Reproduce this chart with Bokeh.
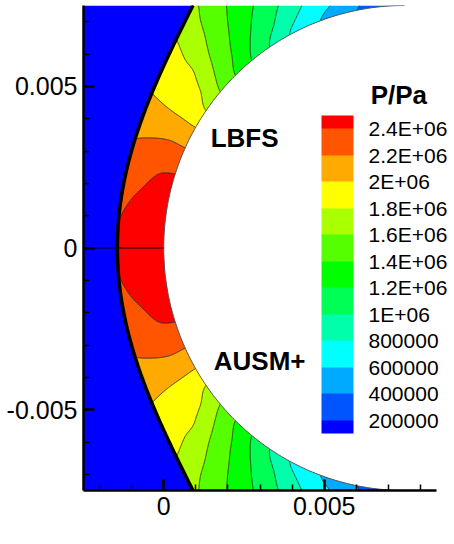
import numpy as np
from bokeh.plotting import figure
from bokeh.models import (ColorBar, LinearColorMapper, FixedTicker, SingleIntervalTicker,
                          CustomJSTickFormatter, Label, AllLabels)
from bokeh.embed import file_html
from bokeh.resources import INLINE

# ---------------- data ----------------
x_range_m = (-0.0025, 0.0085)
y_range_m = (-0.0075, 0.0075)
body_cx, body_r = 0.0075, 0.0075          # cylinder centre (x) and radius, m

# bow shock points (|y|, x), read from both halves, m
shock_y = [0.0, 0.00105, 0.00233, 0.0025, 0.00374, 0.00438, 0.00508, 0.00594, 0.00633, 0.00749, 0.00752]
shock_x = [-0.00144, -0.00139, -0.00113, -0.00118, -0.00082, -0.000506, -0.00020, 0.000115, 0.00032, 0.00089, 0.00094]

p_inf = 1.0e5                              # free-stream pressure, Pa

# pressure values of the iso-lines, Pa
iso_p = [2.4e6, 2.2e6, 2.0e6, 1.8e6, 1.6e6, 1.4e6, 1.2e6, 1.0e6, 8e5, 6e5, 4e5, 2e5, 1e5]
# distance from the wall (m) of each row of readings
row_d = [0.0, 0.0005, 0.0010, 0.0015, 0.0020, 0.0025]
# pressure on the stagnation line at those distances, Pa
p_axis = [2.58e6, 2.56e6, 2.52e6, 2.43e6, 2.42e6, 2.42e6]
# angle from the stagnation line (deg) where each iso-line crosses each row
phi_d0000 = [17.8, 24.4, 29.8, 34.5, 40.1, 45.4, 50.7, 56.0, 61.5, 69.6, 78.7, 87.0, 95.0]
phi_d0005 = [16.6, 24.5, 30.1, 37.4, 42.3, 47.8, 53.1, 59.4, 65.7, 74.3, 82.2, 90.0, 98.0]
phi_d0010 = [11.6, 23.6, 30.4, 39.6, 44.4, 50.1, 55.9, 62.6, 69.5, 78.0, 85.0, 92.0, 100.0]
phi_d0015 = [5.0, 22.1, 31.0, 40.5, 46.4, 52.2, 58.7, 66.0, 73.0, 81.0, 88.0, 95.0, 102.0]
phi_d0020 = [3.0, 20.0, 32.0, 42.0, 48.0, 54.2, 61.0, 69.0, 76.0, 83.0, 90.0, 97.0, 104.0]
phi_d0025 = [2.0, 18.0, 33.0, 43.0, 49.8, 56.0, 63.0, 71.0, 78.0, 85.0, 92.0, 99.0, 106.0]

contour_levels = [0, 200000, 400000, 600000, 800000, 1000000, 1200000, 1400000,
                  1600000, 1800000, 2000000, 2200000, 2400000, 3000000]
band_colors = ["#0000ff", "#0055ff", "#00aaff", "#00ffff", "#00ffaa", "#00ff55", "#00ff00",
               "#55ff00", "#aaff00", "#ffff00", "#ffaa00", "#ff5500", "#ff0000"]
cbar_ticks = [200000, 400000, 600000, 800000, 1000000, 1200000, 1400000,
              1600000, 1800000, 2000000, 2200000, 2400000]
cbar_labels = ["200000", "400000", "600000", "800000", "1E+06", "1.2E+06", "1.4E+06",
               "1.6E+06", "1.8E+06", "2E+06", "2.2E+06", "2.4E+06"]
cbar_low, cbar_high = 1.0e5, 2.5e6

# ---------------- smooth shock curve through the read points ----------------
shock_fit = np.polyfit(np.square(shock_y), shock_x, 2)
def shock_x_at(yabs):
    return np.polyval(shock_fit, np.square(yabs))

# monotone (PCHIP) interpolation so iso-lines come out smooth
def pchip(xq, xp, fp):
    xp = np.asarray(xp, float)
    fp = np.asarray(fp, float)
    h = np.diff(xp)
    delta = np.diff(fp) / h
    m = np.zeros_like(fp)
    m[0], m[-1] = delta[0], delta[-1]
    for k in range(1, len(xp) - 1):
        if delta[k - 1] * delta[k] > 0:
            w1 = 2 * h[k] + h[k - 1]
            w2 = h[k] + 2 * h[k - 1]
            m[k] = (w1 + w2) / (w1 / delta[k - 1] + w2 / delta[k])
    xc = np.clip(xq, xp[0], xp[-1])
    idx = np.clip(np.searchsorted(xp, xc) - 1, 0, len(xp) - 2)
    hh = h[idx]
    tt = (xc - xp[idx]) / hh
    return ((2 * tt**3 - 3 * tt**2 + 1) * fp[idx] + (tt**3 - 2 * tt**2 + tt) * hh * m[idx]
            + (-2 * tt**3 + 3 * tt**2) * fp[idx + 1] + (tt**3 - tt**2) * hh * m[idx + 1])

# ---------------- pressure field on a grid ----------------
nx, ny = 501, 751
xg = np.linspace(x_range_m[0], body_cx, nx)
yg = np.linspace(y_range_m[0], y_range_m[1], ny)
X, Y = np.meshgrid(xg, yg)
AY = np.abs(Y)
DX = body_cx - X
phi = np.degrees(np.arctan2(AY, DX))
dist = np.clip(np.hypot(DX, AY) - body_r, 0.0, row_d[-1])

rows = [phi_d0000, phi_d0005, phi_d0010, phi_d0015, phi_d0020, phi_d0025]
P_rows = np.stack([pchip(phi, [0.0] + rows[k], [p_axis[k]] + iso_p)
                   for k in range(len(row_d))])
rd = np.array(row_d)
nrow = len(row_d)
step = rd[1] - rd[0]
i0 = np.clip((dist / step).astype(int), 0, nrow - 2)
w = (dist - rd[i0]) / step

def take(k):
    return np.take_along_axis(P_rows, np.clip(k, 0, nrow - 1)[None], 0)[0]

p0, p1, p2, p3 = take(i0 - 1), take(i0), take(i0 + 1), take(i0 + 2)
m1 = (p2 - p0) / 2.0
m2 = (p3 - p1) / 2.0
h00 = 2 * w**3 - 3 * w**2 + 1
h10 = w**3 - 2 * w**2 + w
h01 = -2 * w**3 + 3 * w**2
h11 = w**3 - w**2
P = h00 * p1 + h10 * m1 + h01 * p2 + h11 * m2
P[X < shock_x_at(AY)] = p_inf

# ---------------- figure ----------------
FONT = "Liberation Sans"
p = figure(width=454, height=544, x_range=x_range_m, y_range=y_range_m,
           output_backend="svg", toolbar_location=None,
           min_border_left=83, min_border_right=18, min_border_top=5, min_border_bottom=54)
p.grid.visible = False
p.outline_line_color = None
p.background_fill_color = "white"

fmt = CustomJSTickFormatter(code="""
if (Math.abs(tick) < 1e-12) { return "0"; }
return tick.toFixed(3).replace(/\\.?0+$/, "");
""")
for ax in (p.xaxis[0], p.yaxis[0]):
    ax.ticker = SingleIntervalTicker(interval=0.005, num_minor_ticks=5)
    ax.formatter = fmt
    ax.axis_line_width = 2.5
    ax.axis_line_color = "black"
    ax.major_tick_in = 11
    ax.major_tick_out = 0
    ax.major_tick_line_width = 2.5
    ax.major_tick_line_color = "black"
    ax.minor_tick_in = 6
    ax.minor_tick_out = 0
    ax.minor_tick_line_width = 1.5
    ax.minor_tick_line_color = "black"
    ax.major_label_text_font = FONT
    ax.major_label_text_font_size = "25px"
    ax.major_label_text_color = "black"
    ax.major_label_standoff = 6

p.contour(xg, yg, P, levels=contour_levels, fill_color=band_colors,
          line_color="#1a1a1a", line_width=0.8)

# body (white) and its outline
p.ellipse(x=[body_cx], y=[0.0], width=2 * body_r, height=2 * body_r,
          fill_color="white", line_color=None)
t = np.linspace(-np.pi / 2, np.pi / 2, 241)
p.line(body_cx - body_r * np.cos(t), body_r * np.sin(t), line_color="#555555", line_width=1)

# divider between the two halves
p.segment(x0=[x_range_m[0]], y0=[0.0], x1=[body_cx - body_r], y1=[0.0],
          line_color="black", line_width=1)

# bow shock
ys_line = np.linspace(y_range_m[0], y_range_m[1], 301)
p.line(shock_x_at(np.abs(ys_line)), ys_line, line_color="black", line_width=3.5)

# texts
def add_text(x, y, text, size, bold=True, align="center", angle=0.0, x_off=0, y_off=0):
    p.add_layout(Label(x=x, y=y, text=text, text_font=FONT, text_font_size=size,
                       text_font_style="bold" if bold else "normal", text_align=align,
                       text_baseline="middle", angle=angle, x_offset=x_off, y_offset=y_off,
                       text_color="black"))

add_text(0.00252, 0.0034, "LBFS", "26px")
add_text(0.00299, -0.00348, "AUSM+", "26px")
add_text(0.00645, 0.00472, "P/Pa", "26px", align="left")
add_text((x_range_m[0] + x_range_m[1]) / 2, y_range_m[0], "x/m", "28px", y_off=-37)
add_text(x_range_m[0], 0.0, "y/m", "28px", angle=np.pi / 2, x_off=-53)

# colour legend
pal = [band_colors[0]] + [c for c in band_colors[1:-1] for _ in range(2)] + [band_colors[-1]]
mapper = LinearColorMapper(palette=pal, low=cbar_low, high=cbar_high)
cb = ColorBar(color_mapper=mapper, ticker=FixedTicker(ticks=cbar_ticks),
              major_label_overrides=dict(zip(cbar_ticks, cbar_labels)),
              major_label_policy=AllLabels(),
              width=32, height=318, location=(238, 57), padding=0, margin=0,
              label_standoff=15, major_tick_line_color=None,
              major_label_text_font=FONT, major_label_text_font_size="21px",
              major_label_text_color="black",
              background_fill_alpha=0, border_line_color=None, bar_line_color=None)
p.add_layout(cb)

open("out.html", "w").write(file_html(p, INLINE))
